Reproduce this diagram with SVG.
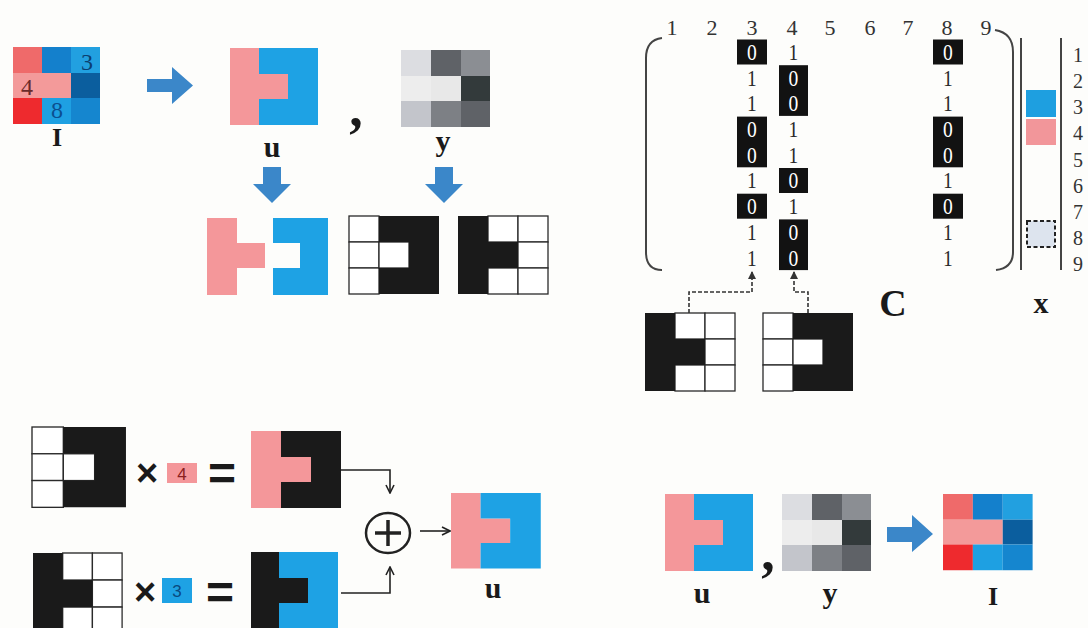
<svg xmlns="http://www.w3.org/2000/svg" xmlns:xlink="http://www.w3.org/1999/xlink" width="1088" height="628" viewBox="0 0 1088 628">
  <style>
    .lbl { font-family: "Liberation Serif", serif; font-weight: bold; fill: #1a1a1a; text-anchor: middle; }
    .num { font-family: "Liberation Serif", serif; fill: #333; text-anchor: middle; }
    .col { font-family: "Liberation Serif", serif; font-size: 23px; fill: #2a2a2a; text-anchor: middle; }
    .z { fill: #ffffff; }
    .box { fill: #121212; }
    .cell { fill: #ffffff; stroke: #2a2a2a; stroke-width: 1.3; }
    .blk { fill: #1a1a1a; }
    .pink { fill: #f4979a; }
    .blue { fill: #1ea2e4; }
    .barrow { fill: #3b87c9; }
    .op { font-family: "Liberation Sans", sans-serif; font-weight: bold; fill: #1a1a1a; text-anchor: middle; }
    .conn { fill: none; stroke: #222; stroke-width: 1.6; }
    .dash { fill: none; stroke: #333; stroke-width: 1.6; stroke-dasharray: 4 2; }
  </style>
  <defs>
    <!-- 3x3 mask, black "C" shape (cell 30x26) -->
    <g id="maskA">
      <rect class="cell" x="0" y="0" width="30" height="26"/>
      <rect class="cell" x="0" y="26" width="30" height="26"/>
      <rect class="cell" x="0" y="52" width="30" height="26"/>
      <rect class="cell" x="30" y="26" width="30" height="26"/>
      <path class="blk" d="M30,0 H90 V78 H30 V52 H60 V26 H30 Z"/>
    </g>
    <!-- 3x3 mask, black "T" shape (cell 30x26) -->
    <g id="maskB">
      <rect class="cell" x="30" y="0" width="30" height="26"/>
      <rect class="cell" x="60" y="0" width="30" height="26"/>
      <rect class="cell" x="60" y="26" width="30" height="26"/>
      <rect class="cell" x="30" y="52" width="30" height="26"/>
      <rect class="cell" x="60" y="52" width="30" height="26"/>
      <path class="blk" d="M0,0 H30 V26 H60 V52 H30 V78 H0 Z"/>
    </g>
    <!-- label image u -->
    <g id="uImg">
      <path class="pink" d="M0,0 H29 V26 H58 V51 H29 V77 H0 Z"/>
      <path class="blue" d="M29,0 H88 V77 H29 V51 H58 V26 H29 Z"/>
    </g>
    <!-- gray image y -->
    <g id="yImg">
      <rect x="0" y="0" width="30" height="26" fill="#dcdde1"/>
      <rect x="30" y="0" width="30" height="26" fill="#5f6267"/>
      <rect x="60" y="0" width="29" height="26" fill="#8b8e93"/>
      <rect x="0" y="26" width="30" height="25" fill="#ededed"/>
      <rect x="30" y="26" width="30" height="25" fill="#e8e8e8"/>
      <rect x="60" y="26" width="29" height="25" fill="#333a3b"/>
      <rect x="0" y="51" width="30" height="26" fill="#c3c5cb"/>
      <rect x="30" y="51" width="30" height="26" fill="#7d8085"/>
      <rect x="60" y="51" width="29" height="26" fill="#5f6267"/>
    </g>
    <!-- colour image I -->
    <g id="iImg">
      <rect x="0" y="0" width="29" height="26" fill="#ef6a6a"/>
      <rect x="29" y="0" width="29" height="26" fill="#1480cc"/>
      <rect x="58" y="0" width="29" height="26" fill="#22a0e0"/>
      <rect x="0" y="26" width="58" height="25" fill="#f39a9a"/>
      <rect x="58" y="26" width="29" height="25" fill="#0b5e9e"/>
      <rect x="0" y="51" width="29" height="26" fill="#ee2a2e"/>
      <rect x="29" y="51" width="29" height="26" fill="#1ea0e2"/>
      <rect x="58" y="51" width="29" height="26" fill="#1586cf"/>
    </g>
    <marker id="solidTip" viewBox="0 0 8 8" refX="7" refY="4" markerWidth="8" markerHeight="8" markerUnits="userSpaceOnUse" orient="auto">
      <path d="M0,0 L8,4 L0,8 Z" fill="#333"/>
    </marker>
    <marker id="openTip" viewBox="0 0 10 10" refX="9" refY="5" markerWidth="10" markerHeight="10" markerUnits="userSpaceOnUse" orient="auto">
      <path d="M1,1 L9,5 L1,9" fill="none" stroke="#222" stroke-width="1.6"/>
    </marker>
  </defs>

  <rect width="1088" height="628" fill="#fdfdfb"/>

  <!-- top: image I split into labels u and gray image y -->
  <g id="img-I-top">
    <use xlink:href="#iImg" x="13" y="47"/>
    <text x="87" y="70" font-family="Liberation Serif, serif" font-size="24" fill="#0b3f70" text-anchor="middle">3</text>
    <text x="27" y="95" font-family="Liberation Serif, serif" font-size="24" fill="#6a2a2a" text-anchor="middle">4</text>
    <text x="57" y="118" font-family="Liberation Serif, serif" font-size="24" fill="#0b4f90" text-anchor="middle">8</text>
    <text class="lbl" x="57" y="146" font-size="26">I</text>
  </g>
  <g id="arrow-top">
    <path class="barrow" d="M147,79 H172 V67 L193,85.5 L172,104 V92 H147 Z"/>
  </g>
  <g id="img-u-top">
    <use xlink:href="#uImg" x="230" y="48"/>
    <text class="lbl" x="272" y="157" font-size="30">u</text>
  </g>
  <text class="lbl" x="356" y="126" font-size="54">,</text>
  <g id="img-y-top">
    <use xlink:href="#yImg" x="401" y="50"/>
    <text class="lbl" x="443" y="151" font-size="30">y</text>
  </g>
  <g id="arrow-down-u">
    <path class="barrow" d="M263,167 H281 V184 H291 L272,203 L253,184 H263 Z"/>
  </g>
  <g id="arrow-down-y">
    <path class="barrow" d="M435,167 H453 V184 H463 L444,203 L425,184 H435 Z"/>
  </g>
  <g id="u-split">
    <path class="pink" d="M207,218 H237 V243 H265 V268 H237 V295 H207 Z"/>
    <path class="blue" d="M273,218 H328 V295 H273 V268 H300 V243 H273 Z"/>
  </g>
  <g id="mask-top-A">
    <use xlink:href="#maskA" x="349" y="216"/>
  </g>
  <g id="mask-top-B">
    <use xlink:href="#maskB" x="458" y="216"/>
  </g>

  <!-- matrix C -->
  <g id="matrix-C">
    <g class="num" font-size="22">
      <text x="672" y="35">1</text>
      <text x="712" y="35">2</text>
      <text x="752" y="35">3</text>
      <text x="792" y="35">4</text>
      <text x="830" y="35">5</text>
      <text x="870" y="35">6</text>
      <text x="908" y="35">7</text>
      <text x="947" y="35">8</text>
      <text x="986" y="35">9</text>
    </g>
    <path d="M662,38 Q646,40 646,58 V252 Q646,270 662,270" fill="none" stroke="#444" stroke-width="2"/>
    <path d="M995,30 Q1013,33 1013,52 V252 Q1013,268 996,270" fill="none" stroke="#444" stroke-width="2"/>
    <!-- dark boxes behind zero entries -->
    <rect class="box" x="737" y="39.5" width="30" height="25"/>
    <rect class="box" x="737" y="116.6" width="30" height="50.7"/>
    <rect class="box" x="737" y="193.7" width="30" height="25"/>
    <rect class="box" x="779" y="65.2" width="29" height="50.7"/>
    <rect class="box" x="779" y="168" width="29" height="25"/>
    <rect class="box" x="779" y="219.4" width="29" height="50.7"/>
    <rect class="box" x="933" y="39.5" width="30" height="25"/>
    <rect class="box" x="933" y="116.6" width="30" height="50.7"/>
    <rect class="box" x="933" y="193.7" width="30" height="25"/>
    <!-- columns 3, 4 and 8, one text per column -->
    <g transform="translate(752,0) scale(0.85,1)">
      <text class="col"><tspan class="z" x="0" y="60">0</tspan><tspan x="0" dy="25.7">1</tspan><tspan x="0" dy="25.7">1</tspan><tspan class="z" x="0" dy="25.7">0</tspan><tspan class="z" x="0" dy="25.7">0</tspan><tspan x="0" dy="25.7">1</tspan><tspan class="z" x="0" dy="25.7">0</tspan><tspan x="0" dy="25.7">1</tspan><tspan x="0" dy="25.7">1</tspan></text>
    </g>
    <g transform="translate(793.5,0) scale(0.85,1)">
      <text class="col"><tspan x="0" y="60">1</tspan><tspan class="z" x="0" dy="25.7">0</tspan><tspan class="z" x="0" dy="25.7">0</tspan><tspan x="0" dy="25.7">1</tspan><tspan x="0" dy="25.7">1</tspan><tspan class="z" x="0" dy="25.7">0</tspan><tspan x="0" dy="25.7">1</tspan><tspan class="z" x="0" dy="25.7">0</tspan><tspan class="z" x="0" dy="25.7">0</tspan></text>
    </g>
    <g transform="translate(948,0) scale(0.85,1)">
      <text class="col"><tspan class="z" x="0" y="60">0</tspan><tspan x="0" dy="25.7">1</tspan><tspan x="0" dy="25.7">1</tspan><tspan class="z" x="0" dy="25.7">0</tspan><tspan class="z" x="0" dy="25.7">0</tspan><tspan x="0" dy="25.7">1</tspan><tspan class="z" x="0" dy="25.7">0</tspan><tspan x="0" dy="25.7">1</tspan><tspan x="0" dy="25.7">1</tspan></text>
    </g>
    <text class="lbl" x="893" y="316" font-size="38">C</text>
  </g>

  <!-- vector x -->
  <g id="vector-x">
    <line x1="1021" y1="38" x2="1021" y2="270" stroke="#444" stroke-width="2"/>
    <line x1="1061" y1="38" x2="1061" y2="270" stroke="#444" stroke-width="2"/>
    <rect x="1026" y="90" width="30" height="27" fill="#1e9fe0"/>
    <rect x="1026" y="119" width="30" height="26" fill="#f2969a"/>
    <rect x="1027" y="221" width="28" height="26" fill="#dde4ee" stroke="#222" stroke-width="2" stroke-dasharray="4 2.5"/>
    <g class="num" font-size="20" style="text-anchor:start">
      <text x="1073" y="62">1</text>
      <text x="1073" y="88">2</text>
      <text x="1073" y="114">3</text>
      <text x="1073" y="140">4</text>
      <text x="1073" y="167">5</text>
      <text x="1073" y="193">6</text>
      <text x="1073" y="219">7</text>
      <text x="1073" y="245">8</text>
      <text x="1073" y="271">9</text>
    </g>
    <text class="lbl" x="1041" y="313" font-size="30">x</text>
  </g>

  <!-- masks feeding columns 3 and 4 -->
  <g id="mask-mid-B">
    <use xlink:href="#maskB" x="645" y="313"/>
  </g>
  <g id="mask-mid-A">
    <use xlink:href="#maskA" x="763" y="313"/>
  </g>

  <!-- bottom-left: masks weighted by labels and summed -->
  <g id="mask-bot-A">
    <use xlink:href="#maskA" transform="translate(32,427) scale(1.044,1.03)"/>
  </g>
  <g id="times-4">
    <text class="op" x="147" y="486" font-size="38">×</text>
    <rect x="167" y="463" width="30" height="20" fill="#f4979a"/>
    <text x="182" y="480" font-family="Liberation Sans, sans-serif" font-size="17" fill="#8a2020" text-anchor="middle">4</text>
    <text class="op" x="222" y="490" font-size="48">=</text>
  </g>
  <g id="result-pink">
    <path class="pink" d="M251,431 H281 V457 H311 V482 H281 V508 H251 Z"/>
    <path class="blk" d="M281,431 H341 V508 H281 V482 H311 V457 H281 Z"/>
  </g>
  <g id="mask-bot-B">
    <use xlink:href="#maskB" transform="translate(33,553) scale(0.99,1.04)"/>
  </g>
  <g id="times-3">
    <text class="op" x="145" y="605" font-size="38">×</text>
    <rect x="162" y="578" width="30" height="25" fill="#1ea2e4"/>
    <text x="177" y="597" font-family="Liberation Sans, sans-serif" font-size="17" fill="#0a4a80" text-anchor="middle">3</text>
    <text class="op" x="220" y="609" font-size="48">=</text>
  </g>
  <g id="result-blue">
    <path class="blk" d="M251,552 H279 V578 H308 V603 H279 V630 H251 Z"/>
    <path class="blue" d="M279,552 H338 V630 H279 V603 H308 V578 H279 Z"/>
  </g>
  <g id="sum">
    <ellipse cx="388" cy="533" rx="22" ry="20" fill="none" stroke="#222" stroke-width="2.5"/>
    <line x1="375" y1="533" x2="401" y2="533" stroke="#222" stroke-width="3.5"/>
    <line x1="388" y1="520" x2="388" y2="546" stroke="#222" stroke-width="3.5"/>
  </g>
  <g id="img-u-sum">
    <use xlink:href="#uImg" transform="translate(451,493) scale(1.02,0.98)"/>
    <text class="lbl" x="493" y="598" font-size="30">u</text>
  </g>

  <!-- bottom-right: labels and gray image give I -->
  <g id="img-u-bot">
    <use xlink:href="#uImg" x="665" y="494"/>
    <text class="lbl" x="702" y="603" font-size="30">u</text>
  </g>
  <text class="lbl" x="768" y="570" font-size="54">,</text>
  <g id="img-y-bot">
    <use xlink:href="#yImg" x="782" y="494"/>
    <text class="lbl" x="830" y="603" font-size="30">y</text>
  </g>
  <g id="arrow-bot">
    <path class="barrow" d="M887,527 H912 V515 L933,534 L912,552 V542 H887 Z"/>
  </g>
  <g id="img-I-bot">
    <use xlink:href="#iImg" transform="translate(943,494) scale(1.03,0.99)"/>
    <text class="lbl" x="993" y="605" font-size="26">I</text>
  </g>

  <!-- connectors -->
  <g id="connectors">
    <path class="dash" d="M689,313 V292 H752 V272" marker-end="url(#solidTip)"/>
    <path class="dash" d="M808,313 V292 H794 V272" marker-end="url(#solidTip)"/>
    <path class="conn" d="M341,470 H390 V493" marker-end="url(#openTip)"/>
    <path class="conn" d="M341,593 H390 V567" marker-end="url(#openTip)"/>
    <path class="conn" d="M420,531 H450" marker-end="url(#openTip)"/>
  </g>
</svg>
